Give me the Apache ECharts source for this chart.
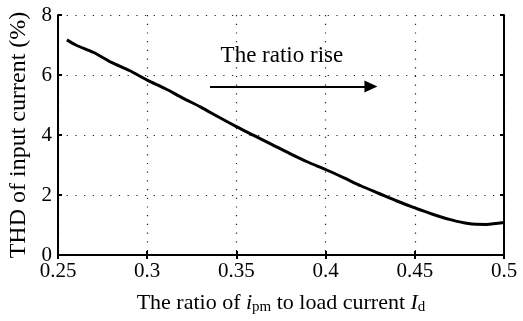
<!DOCTYPE html>
<html>
<head>
<meta charset="utf-8">
<script src="https://cdn.jsdelivr.net/npm/echarts@6/dist/echarts.min.js"></script>
<style>
  html, body { margin: 0; padding: 0; background: #fff; }
  #chart { width: 523px; height: 321px; }
</style>
</head>
<body>
<div id="chart"></div>
<script>
// ratio i_pm / I_d
const ratio = [0.255, 0.26, 0.27, 0.28, 0.29, 0.30, 0.31, 0.32, 0.33, 0.34, 0.35, 0.36, 0.37,
  0.38, 0.39, 0.40, 0.41, 0.42, 0.43, 0.44, 0.45, 0.46, 0.47, 0.48, 0.49, 0.50];
// THD of input current (%)
const thd = [7.17, 7.0, 6.75, 6.42, 6.15, 5.83, 5.55, 5.23, 4.93, 4.6, 4.28, 3.98, 3.68,
  3.38, 3.1, 2.85, 2.58, 2.3, 2.05, 1.8, 1.57, 1.36, 1.18, 1.05, 1.02, 1.08];

const xTicks = ['0.25', '0.3', '0.35', '0.4', '0.45', '0.5'];
const yTicks = ['0', '2', '4', '6', '8'];

// annotation arrow (data coords)
const arrowFrom = [0.3352, 5.62];
const arrowTo = [0.4254, 5.62];
const arrowText = 'The ratio rise';
const arrowTextPos = [0.3755, 6.62];

const serif = '"Liberation Serif", "DejaVu Serif", serif';

const chart = echarts.init(document.getElementById('chart'));

const frameAxis = {
  axisLine: { show: true, lineStyle: { color: '#000', width: 2 } },
  axisTick: { show: true, inside: true, length: 4, lineStyle: { color: '#000', width: 2 } },
  axisLabel: { show: false },
  splitLine: { show: false }
};

const dotted = { show: true, lineStyle: { color: '#222', width: 1.2, type: [1.2, 7.5] } };

const option = {
  animation: false,
  backgroundColor: '#fff',
  grid: { left: 58, right: 19, top: 15, bottom: 66, outerBoundsMode: 'none', containLabel: false },
  xAxis: [{
    type: 'value',
    min: 0.25,
    max: 0.5,
    interval: 0.05,
    name: '{n|The ratio of }{i|i}{s|pm}{n| to load current }{i|I}{s|d}',
    nameLocation: 'middle',
    nameGap: 36,
    nameTextStyle: {
      rich: {
        n: { fontFamily: serif, fontSize: 22, color: '#000' },
        i: { fontFamily: serif, fontSize: 22, fontStyle: 'italic', color: '#000' },
        s: { fontFamily: serif, fontSize: 15, color: '#000', verticalAlign: 'bottom', padding: [9, 0, 0, 0] }
      }
    },
    axisLine: { show: true, lineStyle: { color: '#000', width: 2 } },
    axisTick: { show: true, inside: true, length: 4, lineStyle: { color: '#000', width: 2 } },
    axisLabel: {
      color: '#000', fontFamily: serif, fontSize: 21, margin: 6,
      formatter: (v) => xTicks[Math.round((v - 0.25) / 0.05)]
    },
    splitLine: dotted
  }, {
    type: 'value', position: 'top', min: 0.25, max: 0.5, interval: 0.05, ...frameAxis
  }],
  yAxis: [{
    type: 'value',
    min: 0,
    max: 8,
    interval: 2,
    name: 'THD of input current (%)',
    nameLocation: 'middle',
    nameGap: 27,
    nameTextStyle: { fontFamily: serif, fontSize: 24, color: '#000' },
    axisLine: { show: true, lineStyle: { color: '#000', width: 2 } },
    axisTick: { show: true, inside: true, length: 4, lineStyle: { color: '#000', width: 2 } },
    axisLabel: {
      color: '#000', fontFamily: serif, fontSize: 21, margin: 6,
      formatter: (v) => yTicks[Math.round(v / 2)]
    },
    splitLine: dotted
  }, {
    type: 'value', position: 'right', min: 0, max: 8, interval: 2, ...frameAxis
  }],
  series: [{
    type: 'line',
    data: ratio.map((r, i) => [r, thd[i]]),
    smooth: 0.3,
    symbol: 'none',
    lineStyle: { color: '#000', width: 3 },
    z: 5,
    silent: true,
    markLine: {
      silent: true,
      symbol: ['none', 'triangle'],
      symbolSize: [12, 13],
      label: { show: false },
      lineStyle: { color: '#000', width: 2, type: 'solid' },
      data: [[{ coord: arrowFrom }, { coord: arrowTo }]]
    },
    markPoint: {
      silent: true,
      symbol: 'rect',
      symbolSize: 1,
      itemStyle: { color: 'rgba(0,0,0,0)' },
      label: {
        show: true,
        position: 'inside',
        formatter: arrowText,
        fontFamily: serif,
        fontSize: 23,
        color: '#000'
      },
      data: [{ coord: arrowTextPos }]
    }
  }]
};

chart.setOption(option);
</script>
</body>
</html>
